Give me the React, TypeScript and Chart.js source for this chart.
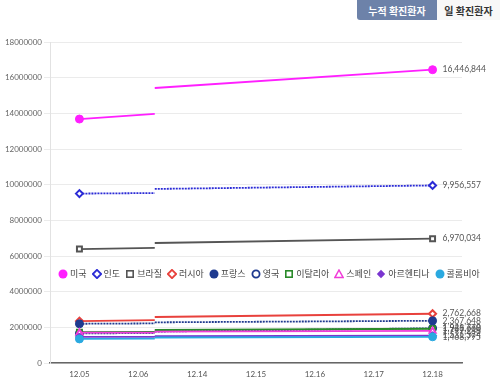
import React, { useEffect, useRef } from 'react';
import { Chart, registerables } from 'chart.js';

Chart.register(...registerables);

// ---- data ----
const dateLabels = ['12.05', '12.06', '12.14', '12.15', '12.16', '12.17', '12.18'];
const countries = ['미국', '인도', '브라질', '러시아', '프랑스', '영국', '이탈리아', '스페인', '아르헨티나', '콜롬비아'];
// position (in date-slot units) where the lines jump between the two segments
const breakPos = 1.28;
// values: [12.05, end of first segment, start of second segment, 12.18]
const usa = [13680000, 13970000, 15420000, 16446844];
const india = [9500000, 9530000, 9760000, 9956557];
const brazil = [6390000, 6450000, 6730000, 6970034];
const russia = [2350000, 2400000, 2580000, 2762668];
const france = [2200000, 2220000, 2280000, 2367648];
const uk = [1660000, 1680000, 1760000, 1948660];
const italy = [1730000, 1750000, 1850000, 1921778];
const spain = [1700000, 1710000, 1760000, 1797236];
const argentina = [1460000, 1470000, 1500000, 1531374];
const colombia = [1350000, 1370000, 1430000, 1468795];
const seriesValues = [usa, india, brazil, russia, france, uk, italy, spain, argentina, colombia];

type Sty = { color: string; shape: string; filled: boolean; dash: number[] };
const styles: Sty[] = [
  { color: '#ff1fff', shape: 'circle', filled: true, dash: [] },
  { color: '#2b2bd6', shape: 'rectRot', filled: false, dash: [2, 1] },
  { color: '#555555', shape: 'rect', filled: false, dash: [] },
  { color: '#e8413c', shape: 'rectRot', filled: false, dash: [] },
  { color: '#1f3a8f', shape: 'circle', filled: true, dash: [2, 1] },
  { color: '#1f3a8f', shape: 'circle', filled: false, dash: [2, 1] },
  { color: '#2a8a2a', shape: 'rect', filled: false, dash: [] },
  { color: '#f03cd8', shape: 'triangle', filled: false, dash: [] },
  { color: '#7a35d0', shape: 'rectRot', filled: true, dash: [] },
  { color: '#2aa9e0', shape: 'circle', filled: true, dash: [] },
];

const endLabelPlugin = {
  id: 'endLabels',
  afterDatasetsDraw(chart: any) {
    const ctx = chart.ctx;
    ctx.save();
    ctx.font = '8.5px Lato, sans-serif';
    ctx.fillStyle = '#555';
    ctx.textBaseline = 'middle';
    ctx.textAlign = 'left';
    chart.data.datasets.forEach((ds: any, i: number) => {
      const meta = chart.getDatasetMeta(i);
      const el = meta.data[meta.data.length - 1];
      const v = ds.data[ds.data.length - 1].y;
      ctx.fillText(v.toLocaleString('en-US'), el.x + 10, el.y);
    });
    ctx.restore();
  },
};

function Marker({ s }: { s: Sty }) {
  const fill = s.filled ? s.color : '#fff';
  const sw = s.filled ? 0 : 1.8;
  let shape: any;
  if (s.shape === 'circle') shape = <circle cx={5} cy={5} r={s.filled ? 4.5 : 3.6} fill={fill} stroke={s.color} strokeWidth={sw} />;
  else if (s.shape === 'rectRot') shape = <polygon points="5,0.8 9.2,5 5,9.2 0.8,5" fill={fill} stroke={s.color} strokeWidth={s.filled ? 0 : 1.8} />;
  else if (s.shape === 'rect') shape = <rect x={1.8} y={1.8} width={6.4} height={6.4} fill={fill} stroke={s.color} strokeWidth={1.6} />;
  else shape = <polygon points="5,1 9.2,8.6 0.8,8.6" fill={fill} stroke={s.color} strokeWidth={1.5} />;
  return (
    <svg width={10} height={10} style={{ display: 'inline-block', verticalAlign: 'middle', marginRight: 2 }}>
      {shape}
    </svg>
  );
}

export default function App() {
  const ref = useRef<HTMLCanvasElement>(null);
  useEffect(() => {
    if (!ref.current) return;
    const last = dateLabels.length - 1;
    const datasets = seriesValues.map((v, i) => {
      const s = styles[i];
      const r = s.filled ? 4 : 3.5;
      return {
        label: countries[i],
        data: [
          { x: 0, y: v[0] },
          { x: breakPos, y: v[1] },
          { x: breakPos, y: null },
          { x: breakPos, y: v[2] },
          { x: last, y: v[3] },
        ],
        borderColor: s.color,
        backgroundColor: s.filled ? s.color : '#ffffff',
        borderWidth: 1.8,
        borderDash: s.dash,
        pointStyle: s.shape,
        pointRadius: [r, 0, 0, 0, r],
        pointHoverRadius: [r, 0, 0, 0, r],
        pointBorderWidth: s.filled ? 1 : 2,
        pointBorderColor: s.color,
        pointBackgroundColor: s.filled ? s.color : '#ffffff',
        spanGaps: false,
        tension: 0,
      };
    });
    const chart = new Chart(ref.current, {
      type: 'line',
      data: { datasets: datasets.slice().reverse() as any },
      options: {
        animation: false,
        responsive: false,
        layout: { padding: { left: 0, right: 38, top: 42, bottom: 0 } },
        plugins: { legend: { display: false }, tooltip: { enabled: false } },
        scales: {
          x: {
            type: 'linear',
            min: -0.5,
            max: dateLabels.length - 0.5,
            afterBuildTicks: (s: any) => {
              s.ticks = dateLabels.map((_, i) => ({ value: i }));
            },
            afterFit: (s: any) => {
              s.height = 22;
            },
            ticks: {
              autoSkip: false,
              maxRotation: 0,
              callback: (v: any) => dateLabels[v] ?? '',
              font: { size: 8, family: 'Lato, sans-serif' },
              color: '#555',
              padding: 7,
            },
            grid: { display: false, drawTicks: false },
            border: { display: true, color: '#666', width: 1.5 },
          },
          y: {
            min: 0,
            max: 18000000,
            afterFit: (s: any) => {
              s.width = 50;
            },
            ticks: {
              stepSize: 2000000,
              callback: (v: any) => String(v),
              font: { size: 8, family: 'Lato, sans-serif' },
              color: '#666',
              padding: 2,
            },
            grid: { color: '#ebebeb', drawTicks: true, tickLength: 6 },
            border: { display: true, color: '#e2e2e2' },
          },
        },
      },
      plugins: [endLabelPlugin],
    });
    return () => chart.destroy();
  }, []);

  return (
    <div style={{ position: 'absolute', left: 0, top: 0, width: 500, height: 385, background: '#fff', overflow: 'hidden' }}>
      <canvas ref={ref} width={500} height={385} style={{ position: 'absolute', left: 0, top: 0 }} />
      <div
        style={{
          position: 'absolute', left: 357, top: 0, width: 80, height: 20, background: '#6d82a9', color: '#fff',
          font: 'bold 10px "Noto Sans CJK KR", sans-serif', display: 'flex', alignItems: 'center', justifyContent: 'center',
          borderRadius: '0 0 0 3px',
        }}
      >
        누적 확진환자
      </div>
      <div
        style={{
          position: 'absolute', left: 437, top: 0, width: 63, height: 20, background: '#f8f8f8', color: '#333',
          font: 'bold 10px "Noto Sans CJK KR", sans-serif', display: 'flex', alignItems: 'center', justifyContent: 'center',
        }}
      >
        일 확진환자
      </div>
      <div
        style={{
          position: 'absolute', left: 58, top: 266, whiteSpace: 'nowrap', font: '9px "Noto Sans CJK KR", sans-serif',
          color: '#444', lineHeight: '14px',
        }}
      >
        {countries.map((c, i) => (
          <span key={c} style={{ marginRight: 5, display: 'inline-block' }}>
            <Marker s={styles[i]} />
            <span style={{ verticalAlign: 'middle' }}>{c}</span>
          </span>
        ))}
      </div>
    </div>
  );
}
